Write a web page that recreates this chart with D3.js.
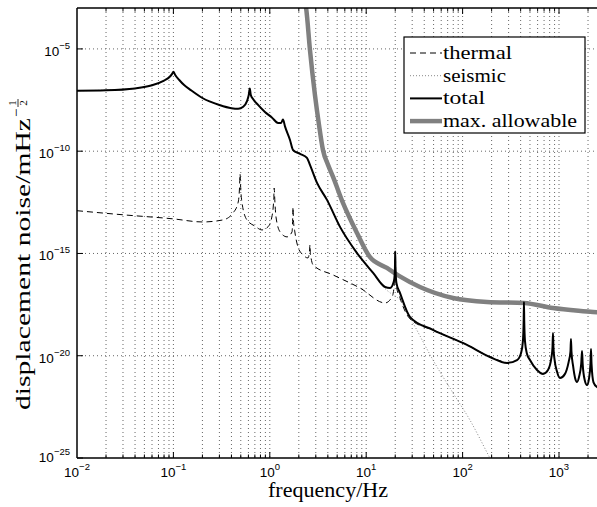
<!DOCTYPE html>
<html><head><meta charset="utf-8">
<script src="https://cdn.jsdelivr.net/npm/d3@7"></script>
<style>
body{margin:0;background:#fff;}
svg{display:block;}
</style></head>
<body>
<svg id="chart" width="597" height="507"></svg>
<script>
// ---- data (frequency in Hz, value as log10 of displacement noise) ----
const totalFreq = [0.01,0.02,0.04,0.06,0.08,0.09,0.097,0.1,0.104,0.115,0.13,0.15,0.2,0.3,0.4,0.47,0.53,0.58,0.605,0.62,0.635,0.67,0.755,0.89,1.05,1.22,1.31,1.37,1.44,1.62,1.74,2.06,2.43,2.61,3.09,3.92,5.35,8.03,11.8,15.7,17.7,19.4,19.85,20,20.15,20.6,22.4,28.5,49.3,111,192,289,367,405,422,430,433,436,444,465,500,591,683,769,836,856,866,876,900,950,1024,1150,1260,1315,1331,1347,1400,1470,1537,1620,1700,1733,1760,1850,1951,2050,2120,2148,2175,2280,2478,2700];
const totalExp  = [-7.04,-7.02,-6.93,-6.78,-6.55,-6.40,-6.22,-6.12,-6.26,-6.52,-6.78,-7.0,-7.4,-7.74,-7.9,-7.93,-7.83,-7.55,-7.25,-6.93,-7.25,-7.45,-7.74,-8.08,-8.35,-8.62,-8.62,-8.45,-8.8,-9.45,-9.94,-10.13,-10.33,-10.67,-11.55,-12.38,-13.70,-14.98,-15.95,-16.64,-16.69,-16.35,-15.8,-14.9,-15.8,-16.45,-16.93,-18.11,-18.74,-19.47,-20.06,-20.35,-20.21,-19.85,-19.3,-18.3,-17.37,-18.3,-19.3,-19.9,-20.21,-20.70,-20.89,-20.70,-20.06,-19.6,-18.89,-19.6,-20.2,-20.75,-21.09,-20.9,-20.3,-19.8,-19.18,-19.8,-20.5,-21.1,-21.28,-21.0,-20.4,-19.77,-20.4,-21.2,-21.43,-21.1,-20.4,-19.67,-20.4,-21.3,-21.53,-21.6];

const thermalFreq = [0.01,0.03,0.1,0.2,0.327,0.415,0.468,0.485,0.491,0.50,0.515,0.579,0.70,0.83,0.957,1.05,1.10,1.11,1.13,1.16,1.28,1.51,1.70,1.73,1.74,1.76,1.82,1.96,2.21,2.49,2.58,2.61,2.64,2.68,2.81,4.53,8.63,15.7,18.5,19.6,20,20.4,22.4,28.5,49.3,111,192,289];
const thermalExp  = [-12.91,-13.11,-13.31,-13.46,-13.36,-13.02,-12.53,-11.8,-11.11,-11.9,-12.53,-13.36,-13.66,-13.85,-13.70,-13.22,-12.3,-11.80,-12.5,-13.22,-13.95,-14.19,-13.95,-13.2,-12.73,-13.4,-13.95,-14.68,-15.07,-15.22,-14.9,-14.58,-15.0,-15.22,-15.56,-16.05,-16.69,-17.42,-17.13,-16.5,-14.9,-16.5,-17.17,-18.2,-18.75,-19.47,-20.06,-20.35];

const seismicFreq = [0.01,0.02,0.04,0.06,0.08,0.09,0.097,0.1,0.104,0.115,0.13,0.15,0.2,0.3,0.4,0.47,0.53,0.58,0.605,0.62,0.635,0.67,0.755,0.89,1.05,1.22,1.31,1.37,1.44,1.62,1.74,2.06,2.43,2.61,3.09,3.92,5.35,8.03,11.8,15.7,18,22.4,30.6,49.3,79.5,119,192,250];
const seismicExp  = [-7.04,-7.02,-6.93,-6.78,-6.55,-6.40,-6.22,-6.12,-6.26,-6.52,-6.78,-7.0,-7.4,-7.74,-7.9,-7.93,-7.83,-7.55,-7.25,-6.93,-7.25,-7.45,-7.74,-8.08,-8.35,-8.62,-8.62,-8.45,-8.8,-9.45,-9.94,-10.13,-10.33,-10.67,-11.55,-12.38,-13.70,-14.98,-15.98,-16.72,-16.95,-17.27,-18.4,-20.21,-21.82,-23.14,-25.0,-26.0];

const allowFreq = [2.3,2.38,2.61,2.94,3.24,3.56,4.02,4.53,5.74,8.03,10.9,16.4,21.9,36.1,79.5,179,433,866,2254,3000];
const allowExp  = [-2.6,-3.0,-5.05,-7.25,-8.72,-9.94,-10.67,-11.26,-12.53,-14.0,-15.17,-15.71,-16.10,-16.64,-17.18,-17.37,-17.42,-17.67,-17.86,-17.92];

const xTickExps = [-2,-1,0,1,2,3];
const yTickExps = [-25,-20,-15,-10,-5];
const legendLabels = ["thermal","seismic","total","max. allowable"];
const xLabel = "frequency/Hz";
const yLabel = "displacement noise/mHz";

// ---- layout ----
const SERIF = "'Liberation Serif','Times New Roman',serif";
const SANS = "'Liberation Sans',Arial,sans-serif";
const svg = d3.select("#chart");
const L = 77, T = 8, B = 458, decX = 96.4;
const x = d3.scaleLog().domain([1e-2, 1e4]).range([L, L + 6*decX]);
const y = d3.scaleLog().domain([1e-25, 1e-3]).range([B, T]);
const R = x(1e4);

svg.append("defs").append("clipPath").attr("id","clip")
  .append("rect").attr("x",L).attr("y",T).attr("width",R-L).attr("height",B-T);

// grid
const grid = svg.append("g");
const minorX = [];
for (let e=-2; e<4; e++) for (let m=1; m<10; m++) minorX.push(m*Math.pow(10,e));
grid.selectAll("line.vx").data(minorX.filter(v=>v>1e-2)).enter().append("line")
  .attr("x1",d=>x(d)).attr("x2",d=>x(d)).attr("y1",T).attr("y2",B)
  .attr("stroke","#666").attr("stroke-width",1).attr("stroke-dasharray","1,3");
grid.selectAll("line.hy").data(yTickExps.filter(e=>e>-25)).enter().append("line")
  .attr("x1",L).attr("x2",R).attr("y1",d=>y(Math.pow(10,d))).attr("y2",d=>y(Math.pow(10,d)))
  .attr("stroke","#666").attr("stroke-width",1).attr("stroke-dasharray","1,3");

// lines
const plot = svg.append("g").attr("clip-path","url(#clip)");
const mk = (F,E)=>F.map((f,i)=>[f,Math.pow(10,E[i])]);
const line = d3.line().x(d=>x(d[0])).y(d=>y(d[1])).curve(d3.curveMonotoneX);
plot.append("path").datum(mk(allowFreq,allowExp)).attr("d",line)
  .attr("fill","none").attr("stroke","#808080").attr("stroke-width",4.5).attr("stroke-linejoin","round");
plot.append("path").datum(mk(thermalFreq,thermalExp)).attr("d",line)
  .attr("fill","none").attr("stroke","#000").attr("stroke-width",1).attr("stroke-dasharray","6,4");
plot.append("path").datum(mk(seismicFreq,seismicExp)).attr("d",line)
  .attr("fill","none").attr("stroke","#888").attr("stroke-width",1).attr("stroke-dasharray","1,2");
plot.append("path").datum(mk(totalFreq,totalExp)).attr("d",line)
  .attr("fill","none").attr("stroke","#000").attr("stroke-width",2).attr("stroke-linejoin","round");

// frame and ticks
svg.append("line").attr("x1",L).attr("x2",L).attr("y1",T).attr("y2",B).attr("stroke","#000").attr("stroke-width",1.5);
svg.append("line").attr("x1",L).attr("x2",R).attr("y1",B).attr("y2",B).attr("stroke","#000").attr("stroke-width",1.5);
svg.append("line").attr("x1",L).attr("x2",R).attr("y1",T).attr("y2",T).attr("stroke","#000").attr("stroke-width",1.5);
const tk = svg.append("g");
minorX.filter(v=>v>1e-2).forEach(v=>{
  const major = Math.abs(Math.log10(v)-Math.round(Math.log10(v)))<1e-9;
  const len = major?6:3.5;
  tk.append("line").attr("x1",x(v)).attr("x2",x(v)).attr("y1",B).attr("y2",B-len).attr("stroke","#000");
  tk.append("line").attr("x1",x(v)).attr("x2",x(v)).attr("y1",T).attr("y2",T+len).attr("stroke","#000");
});
yTickExps.forEach(e=>{
  tk.append("line").attr("x1",L).attr("x2",L+6).attr("y1",y(Math.pow(10,e))).attr("y2",y(Math.pow(10,e))).attr("stroke","#000");
});

// tick labels
xTickExps.forEach(e=>{
  const t = svg.append("text").attr("font-family",SANS).attr("x",x(Math.pow(10,e))).attr("y",477)
    .attr("text-anchor","middle").attr("font-size",13.5);
  t.append("tspan").text("10");
  t.append("tspan").attr("dy",-7).attr("font-size",9.5).text(e<0?"\u2212"+(-e):String(e));
});
yTickExps.forEach(e=>{
  const yy = y(Math.pow(10,e));
  const t = svg.append("text").attr("font-family",SANS).attr("x",70).attr("y",yy+ (e===-25?4:7))
    .attr("text-anchor","end").attr("font-size",13.5);
  t.append("tspan").text("10");
  t.append("tspan").attr("dy",-7).attr("font-size",9.5).text("\u2212"+(-e));
});

// axis labels
svg.append("text").attr("font-family",SERIF).attr("x",268).attr("y",497)
  .attr("font-size",20).attr("textLength",120).attr("lengthAdjust","spacingAndGlyphs").text(xLabel);
const yl = svg.append("g").attr("transform","translate(30,410) rotate(-90)");
const mainLen = 292;
yl.append("text").attr("font-family",SERIF).attr("x",0).attr("y",0).attr("font-size",20)
  .attr("textLength",mainLen).attr("lengthAdjust","spacingAndGlyphs").text(yLabel);
const w = mainLen;
yl.append("text").attr("font-family",SERIF).attr("x",w+1).attr("y",-9).attr("font-size",15).text("\u2212");
yl.append("text").attr("font-family",SERIF).attr("x",w+15).attr("y",-14).attr("font-size",11).attr("text-anchor","middle").text("1");
yl.append("line").attr("x1",w+11).attr("x2",w+19).attr("y1",-12).attr("y2",-12).attr("stroke","#000").attr("stroke-width",0.8);
yl.append("text").attr("font-family",SERIF).attr("x",w+15).attr("y",-3).attr("font-size",11).attr("text-anchor","middle").text("2");

// legend
const lg = svg.append("g");
lg.append("rect").attr("x",404).attr("y",37).attr("width",181).attr("height",96)
  .attr("fill","#fff").attr("stroke","#000").attr("stroke-width",1.2);
const legStyles = [
  {stroke:"#000",w:1,dash:"6,4",len:69},
  {stroke:"#888",w:1,dash:"1,2",len:63},
  {stroke:"#000",w:2,dash:null,len:42},
  {stroke:"#808080",w:4.5,dash:null,len:134}
];
legendLabels.forEach((lab,i)=>{
  const yy = 53 + i*22.7;
  const s = legStyles[i];
  lg.append("line").attr("x1",410).attr("x2",442).attr("y1",yy).attr("y2",yy)
    .attr("stroke",s.stroke).attr("stroke-width",s.w).attr("stroke-dasharray",s.dash);
  lg.append("text").attr("font-family",SERIF).attr("x",443).attr("y",yy+6).attr("font-size",19)
    .attr("textLength",s.len).attr("lengthAdjust","spacingAndGlyphs").text(lab);
});
</script>
</body></html>
